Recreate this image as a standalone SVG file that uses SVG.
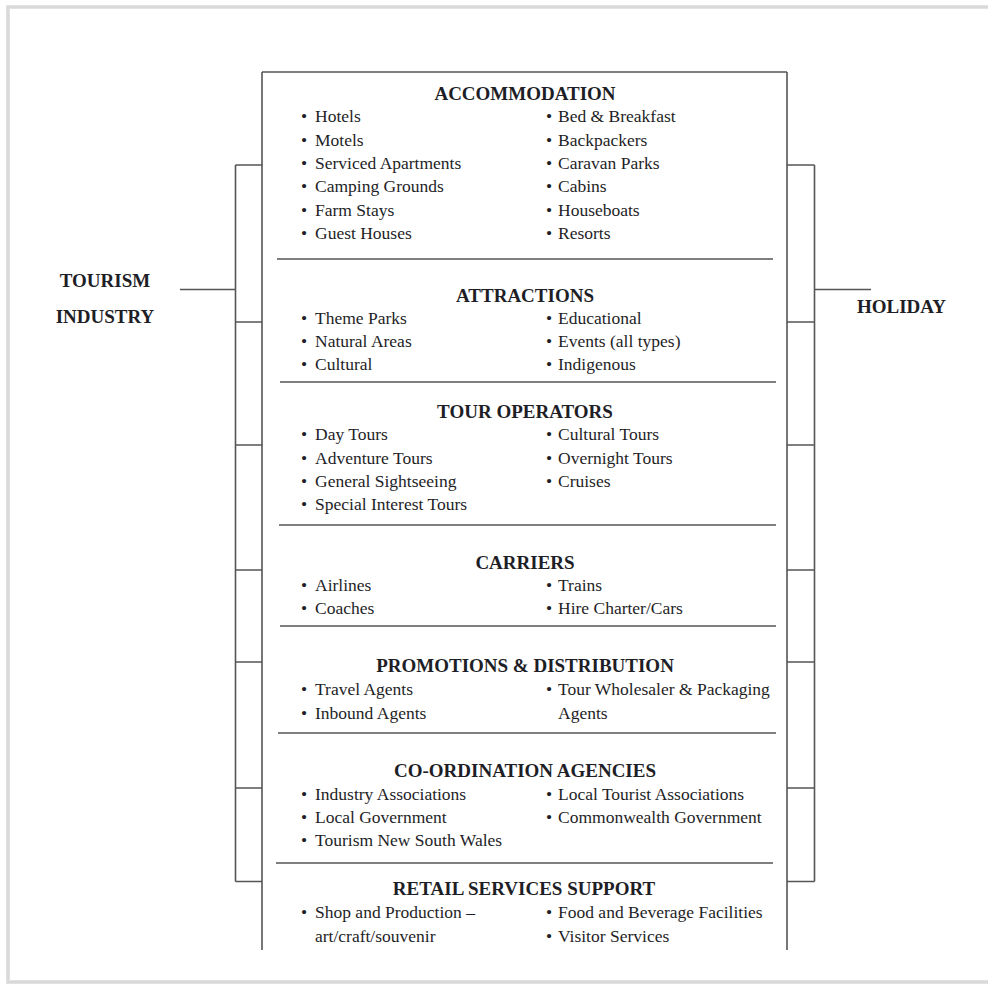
<svg xmlns="http://www.w3.org/2000/svg" width="988" height="985" viewBox="0 0 988 985">
<defs>
<style>
.ln{stroke:#555;stroke-width:1.6;fill:none}
.t{font-family:"Liberation Serif","Times New Roman",serif;font-size:19px;font-weight:bold;fill:#1e1e26;text-anchor:middle}
.it{font-family:"Liberation Serif","Times New Roman",serif;font-size:17.5px;fill:#1e1e26}
.lab{font-family:"Liberation Serif","Times New Roman",serif;font-size:19px;font-weight:bold;fill:#1e1e26}
</style>
</defs>
<rect x="0" y="0" width="988" height="985" fill="#fff"/>
<rect x="8" y="7" width="990" height="975" fill="none" stroke="#e2e2e2" stroke-width="4"/>
<rect x="8" y="7" width="990" height="975" fill="none" stroke="#cfcfcf" stroke-width="1"/>

<g id="connectors">
<path class="ln" d="M262,72 H787 M262,72 V950 M787,72 V950"/>
<path class="ln" d="M277,259 H773 M280,382 H776 M279,525 H776 M280,626 H776 M278,733 H776 M276,863 H773"/>
<path class="ln" d="M235.5,165 V881.5 M235.5,165 H262 M235.5,322 H262 M235.5,445 H262 M235.5,570 H262 M235.5,662 H262 M235.5,788 H262 M235.5,881.5 H262 M180,289.5 H235.5"/>
<path class="ln" d="M814.5,165 V881.5 M787,165 H814.5 M787,322 H814.5 M787,445 H814.5 M787,570 H814.5 M787,662 H814.5 M787,788 H814.5 M787,881.5 H814.5 M814.5,289.5 H871"/>
</g>

<g id="tourism-industry">
<text class="lab" x="105" y="287" text-anchor="middle">TOURISM</text>
<text class="lab" x="105" y="323" text-anchor="middle">INDUSTRY</text>
</g>
<g id="holiday">
<text class="lab" x="857" y="313">HOLIDAY</text>
</g>

<g id="accommodation">
<text class="t" x="525" y="100">ACCOMMODATION</text>
<g class="it">
<text x="301" y="122">•</text><text x="315" y="122">Hotels</text>
<text x="301" y="146">•</text><text x="315" y="146">Motels</text>
<text x="301" y="169">•</text><text x="315" y="169">Serviced Apartments</text>
<text x="301" y="192">•</text><text x="315" y="192">Camping Grounds</text>
<text x="301" y="216">•</text><text x="315" y="216">Farm Stays</text>
<text x="301" y="239">•</text><text x="315" y="239">Guest Houses</text>
<text x="546" y="122">•</text><text x="558" y="122">Bed &amp; Breakfast</text>
<text x="546" y="146">•</text><text x="558" y="146">Backpackers</text>
<text x="546" y="169">•</text><text x="558" y="169">Caravan Parks</text>
<text x="546" y="192">•</text><text x="558" y="192">Cabins</text>
<text x="546" y="216">•</text><text x="558" y="216">Houseboats</text>
<text x="546" y="239">•</text><text x="558" y="239">Resorts</text>
</g>
</g>

<g id="attractions">
<text class="t" x="525" y="302">ATTRACTIONS</text>
<g class="it">
<text x="301" y="324">•</text><text x="315" y="324">Theme Parks</text>
<text x="301" y="347">•</text><text x="315" y="347">Natural Areas</text>
<text x="301" y="370">•</text><text x="315" y="370">Cultural</text>
<text x="546" y="324">•</text><text x="558" y="324">Educational</text>
<text x="546" y="347">•</text><text x="558" y="347">Events (all types)</text>
<text x="546" y="370">•</text><text x="558" y="370">Indigenous</text>
</g>
</g>

<g id="tour-operators">
<text class="t" x="525" y="418">TOUR OPERATORS</text>
<g class="it">
<text x="301" y="440">•</text><text x="315" y="440">Day Tours</text>
<text x="301" y="464">•</text><text x="315" y="464">Adventure Tours</text>
<text x="301" y="487">•</text><text x="315" y="487">General Sightseeing</text>
<text x="301" y="510">•</text><text x="315" y="510">Special Interest Tours</text>
<text x="546" y="440">•</text><text x="558" y="440">Cultural Tours</text>
<text x="546" y="464">•</text><text x="558" y="464">Overnight Tours</text>
<text x="546" y="487">•</text><text x="558" y="487">Cruises</text>
</g>
</g>

<g id="carriers">
<text class="t" x="525" y="569">CARRIERS</text>
<g class="it">
<text x="301" y="591">•</text><text x="315" y="591">Airlines</text>
<text x="301" y="614">•</text><text x="315" y="614">Coaches</text>
<text x="546" y="591">•</text><text x="558" y="591">Trains</text>
<text x="546" y="614">•</text><text x="558" y="614">Hire Charter/Cars</text>
</g>
</g>

<g id="promotions-distribution">
<text class="t" x="525" y="672">PROMOTIONS &amp; DISTRIBUTION</text>
<g class="it">
<text x="301" y="695">•</text><text x="315" y="695">Travel Agents</text>
<text x="301" y="719">•</text><text x="315" y="719">Inbound Agents</text>
<text x="546" y="695">•</text><text x="558" y="695">Tour Wholesaler &amp; Packaging</text>
<text x="558" y="719">Agents</text>
</g>
</g>

<g id="coordination-agencies">
<text class="t" x="525" y="777">CO-ORDINATION AGENCIES</text>
<g class="it">
<text x="301" y="800">•</text><text x="315" y="800">Industry Associations</text>
<text x="301" y="823">•</text><text x="315" y="823">Local Government</text>
<text x="301" y="846">•</text><text x="315" y="846">Tourism New South Wales</text>
<text x="546" y="800">•</text><text x="558" y="800">Local Tourist Associations</text>
<text x="546" y="823">•</text><text x="558" y="823">Commonwealth Government</text>
</g>
</g>

<g id="retail-services-support">
<text class="t" x="524" y="895">RETAIL SERVICES SUPPORT</text>
<g class="it">
<text x="301" y="918">•</text><text x="315" y="918">Shop and Production –</text>
<text x="315" y="942">art/craft/souvenir</text>
<text x="546" y="918">•</text><text x="558" y="918">Food and Beverage Facilities</text>
<text x="546" y="942">•</text><text x="558" y="942">Visitor Services</text>
</g>
</g>
</svg>
